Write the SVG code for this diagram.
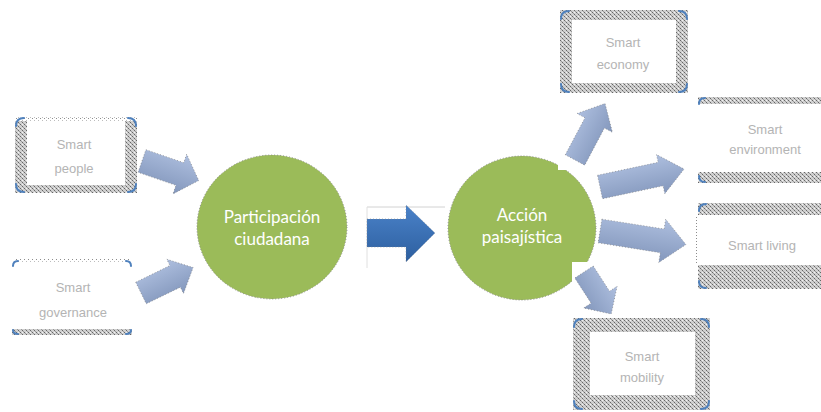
<svg xmlns="http://www.w3.org/2000/svg" width="821" height="412" viewBox="0 0 821 412">
<defs>
<pattern id="tex" width="4" height="4" patternUnits="userSpaceOnUse">
<rect width="4" height="4" fill="#d0d0d0"/>
<rect x="0" y="0" width="1" height="1" fill="#666666"/>
<rect x="2" y="2" width="1" height="1" fill="#666666"/>
<rect x="1" y="1" width="1" height="1" fill="#9a9a9a"/>
<rect x="3" y="3" width="1" height="1" fill="#9a9a9a"/>
<rect x="2" y="0" width="1" height="1" fill="#f2f2f2"/>
</pattern>
<pattern id="dots" width="4" height="3" patternUnits="userSpaceOnUse">
<rect width="4" height="3" fill="#ffffff"/>
<rect x="0" y="1" width="1" height="1" fill="#8c8c8c"/>
<rect x="2" y="0" width="1" height="1" fill="#bdbdbd"/>
</pattern>
<linearGradient id="ag" x1="0" y1="0" x2="0" y2="1">
<stop offset="0" stop-color="#aebfdf"/>
<stop offset="1" stop-color="#8397bc"/>
</linearGradient>
<linearGradient id="bg" x1="0" y1="0" x2="0" y2="1">
<stop offset="0" stop-color="#4a82c9"/>
<stop offset="1" stop-color="#2d5f9f"/>
</linearGradient>
</defs>
<style>
.lbl{font-family:"Liberation Sans",Arial,sans-serif;font-size:13px;fill:#b4b4b4;text-anchor:middle}
.ct{font-family:Lato,"Open Sans",sans-serif;font-size:17px;fill:#ffffff;text-anchor:middle}
.corner{fill:none;stroke:#4f81bd;stroke-width:2;stroke-linecap:round}
.circ{fill:#9bbb59;stroke:#8a8a8a;stroke-width:1;stroke-dasharray:1 2}
.arr{fill:url(#ag);stroke:#7a7a7a;stroke-width:0.6;stroke-dasharray:1 2}
</style>
<rect width="821" height="412" fill="#ffffff"/>

<g id="smart-people">
<rect x="15" y="117" width="122" height="76" fill="url(#tex)"/>
<rect x="15" y="117" width="122" height="4" fill="url(#dots)"/>
<rect x="27" y="121" width="98" height="64" fill="#ffffff"/>
<path class="corner" d="M16 126 Q16 118 24 118 M128 118 Q136 118 136 126 M16 184 Q16 192 24 192 M128 192 Q136 192 136 184"/>
<text class="lbl" x="74" y="149">Smart</text>
<text class="lbl" x="74" y="173">people</text>
</g>

<g id="smart-governance">
<rect x="14" y="259" width="116" height="3" fill="url(#dots)"/>
<rect x="12" y="329" width="120" height="6" fill="url(#tex)"/>
<path class="corner" d="M13 266 Q13 261 18 261 M126 261 Q131 261 131 266 M13 330 Q13 334 18 334 M126 334 Q131 334 131 330"/>
<text class="lbl" x="73" y="292">Smart</text>
<text class="lbl" x="73" y="317">governance</text>
</g>

<g id="participacion">
<ellipse class="circ" cx="272" cy="227" rx="75" ry="72"/>
<text class="ct" x="272" y="223">Participación</text>
<text class="ct" x="272" y="245">ciudadana</text>
</g>

<g id="accion">
<ellipse class="circ" cx="522" cy="228" rx="74" ry="72"/>
<text class="ct" x="522" y="221">Acción</text>
<text class="ct" x="522" y="243">paisajística</text>
</g>

<g id="smart-economy">
<rect x="560" y="10" width="128" height="83" fill="url(#tex)"/>
<rect x="572" y="20" width="104" height="63" fill="#ffffff"/>
<path class="corner" d="M561 19 Q561 11 569 11 M679 11 Q687 11 687 19 M561 84 Q561 92 569 92 M679 92 Q687 92 687 84"/>
<text class="lbl" x="623" y="47">Smart</text>
<text class="lbl" x="623" y="69">economy</text>
</g>

<g id="smart-environment">
<rect x="698" y="97" width="123" height="7" fill="url(#tex)"/>
<rect x="698" y="172" width="123" height="11" fill="url(#tex)"/>
<path class="corner" d="M699 104 Q699 98 705 98 M699 176 Q699 182 705 182"/>
<text class="lbl" x="765" y="134">Smart</text>
<text class="lbl" x="765" y="154">environment</text>
</g>

<g id="smart-living">
<rect x="698" y="203" width="123" height="12" fill="url(#tex)"/>
<rect x="698" y="265" width="123" height="24" fill="url(#tex)"/>
<rect x="696" y="215" width="2" height="50" fill="url(#dots)"/>
<path class="corner" d="M699 211 Q699 204 706 204 M699 281 Q699 288 706 288"/>
<text class="lbl" x="762" y="250">Smart living</text>
</g>

<g id="connectors">
<rect x="558" y="95" width="66" height="75" fill="#ffffff"/>
<rect x="572" y="262" width="52" height="55" fill="#ffffff"/>
<path class="arr" transform="translate(142,161) rotate(19)" d="M0 -12 L40 -12 L40 -21 L60 0 L40 21 L40 12 L0 12 Z"/>
<path class="arr" transform="translate(141,293) rotate(-26)" d="M0 -12 L38 -12 L38 -19 L58 0 L38 19 L38 12 L0 12 Z"/>
<path class="arr" transform="translate(575,160) rotate(-62)" d="M0 -11 L42 -11 L42 -20 L64 0 L42 20 L42 11 L0 11 Z"/>
<path class="arr" transform="translate(600,187) rotate(-12)" d="M0 -12 L62 -12 L62 -20 L86 0 L62 20 L62 12 L0 12 Z"/>
<path class="arr" transform="translate(600,231) rotate(9)" d="M0 -12 L63 -12 L63 -22 L87 0 L63 22 L63 12 L0 12 Z"/>
<path class="arr" transform="translate(584,272) rotate(57)" d="M0 -11 L30 -11 L30 -20 L50 0 L30 20 L30 11 L0 11 Z"/>
<line x1="367" y1="207" x2="445" y2="207" stroke="#d2d2d2" stroke-width="1"/>
<line x1="367" y1="207" x2="367" y2="268" stroke="#e0e0e0" stroke-width="1"/>
<path fill="url(#bg)" stroke="#888" stroke-width="0.6" stroke-dasharray="1 2" d="M367 219 L406 219 L406 205 L435 233 L406 262 L406 247 L367 247 Z"/>
</g>

<g id="smart-mobility">
<rect x="573" y="318" width="137" height="92" fill="url(#tex)"/>
<rect x="590" y="332" width="105" height="63" fill="#ffffff"/>
<path class="corner" d="M574 327 Q574 319 582 319 M701 319 Q709 319 709 327 M574 401 Q574 409 582 409 M701 409 Q709 409 709 401"/>
<text class="lbl" x="642" y="361">Smart</text>
<text class="lbl" x="642" y="382">mobility</text>
</g>
</svg>
